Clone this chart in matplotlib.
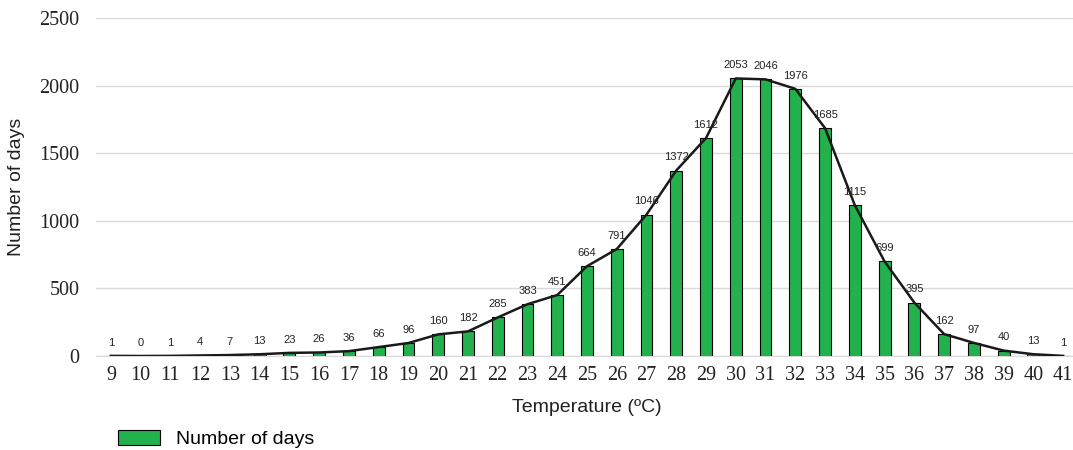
import matplotlib
matplotlib.use("Agg")
from matplotlib import pyplot as plt

temps = list(range(9, 42))
days = [1, 0, 1, 4, 7, 13, 23, 26, 36, 66,
        96, 160, 182, 285, 383, 451, 664, 791, 1046, 1372,
        1612, 2053, 2046, 1976, 1685, 1115, 699, 395, 162, 97,
        40, 13, 1]
yticks = [0, 500, 1000, 1500, 2000, 2500]

fig = plt.figure(figsize=(10.73, 4.5), dpi=100)
ax = fig.add_axes([96 / 1073, 1 - 356 / 450, 982 / 1073, 338 / 450])

ax.bar(temps, days, width=0.4, color="#22b14c", edgecolor="black",
       linewidth=0.8, label="Number of days", zorder=2)
ax.plot(temps, days, color="#1a1a1a", linewidth=1.8, zorder=3)

for t, d in zip(temps, days):
    ax.annotate(str(d), (t, d), xytext=(0, 6), textcoords="offset points",
                ha="center", va="bottom", fontsize=8, color="#222222",
                family="Liberation Sans", zorder=4)

ax.set_xlim(8.5, 41.5)
ax.set_ylim(0, 2500)
ax.set_xticks(temps)
ax.set_yticks(yticks)
for lab in ax.get_xticklabels() + ax.get_yticklabels():
    lab.set_family("Liberation Serif")
    lab.set_fontsize(14.5)
    lab.set_color("#222222")
ax.tick_params(axis="both", length=0)
ax.tick_params(axis="x", pad=7)
ax.tick_params(axis="y", pad=12)
ax.grid(axis="y", color="#d9d9d9", linewidth=1, zorder=0)
for s in ["top", "right", "left"]:
    ax.spines[s].set_visible(False)
ax.spines["bottom"].set_color("#d9d9d9")

ax.set_ylabel("Number of days", fontsize=14, family="Liberation Sans",
              labelpad=10, color="#222222")
ax.set_xlabel("Temperature (ºC)", fontsize=14, family="Liberation Sans",
              labelpad=10, color="#222222")

fig.legend(loc="lower left", bbox_to_anchor=(100 / 1073, -0.035), frameon=False,
           prop={"family": "Liberation Sans", "size": 14},
           handlelength=2.2, handleheight=0.8)

fig.savefig("out.png")
